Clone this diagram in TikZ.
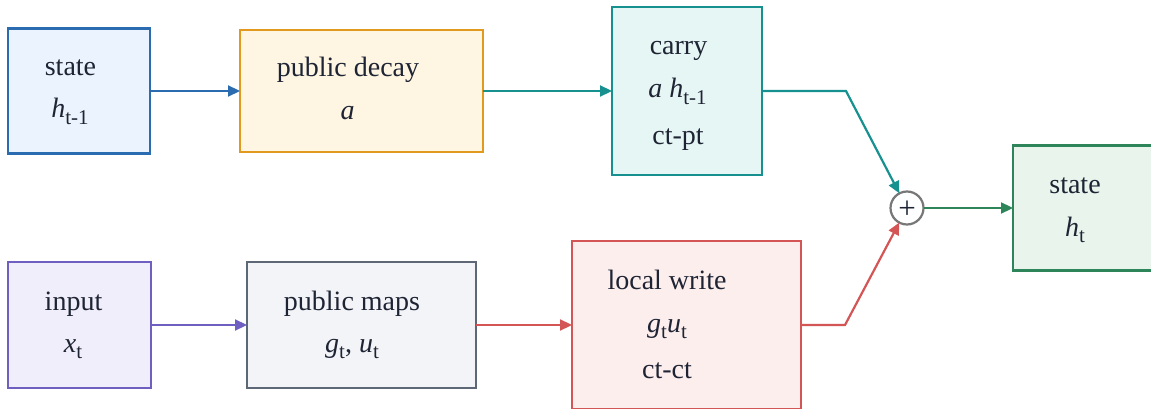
\documentclass[tikz,border=0pt]{standalone}
\usepackage{fontspec}
\setmainfont{Liberation Serif}
\usetikzlibrary{arrows.meta}
\definecolor{txtc}{HTML}{1E2434}
\definecolor{blueB}{HTML}{2B6CB0}
\definecolor{blueF}{HTML}{EBF3FE}
\definecolor{orangeB}{HTML}{E29A1E}
\definecolor{orangeF}{HTML}{FEF5E3}
\definecolor{tealB}{HTML}{17918F}
\definecolor{tealF}{HTML}{E6F6F5}
\definecolor{greenB}{HTML}{2F855A}
\definecolor{greenF}{HTML}{E9F5EC}
\definecolor{purpleB}{HTML}{6E5FC0}
\definecolor{purpleF}{HTML}{F0EEFA}
\definecolor{grayB}{HTML}{5D6776}
\definecolor{grayF}{HTML}{F3F4F7}
\definecolor{redB}{HTML}{D35555}
\definecolor{redF}{HTML}{FDEEEE}
\definecolor{circB}{HTML}{777777}
\newcommand{\lowsub}[1]{\raisebox{-6.5pt}{\fontsize{21}{21}\selectfont #1}}
\begin{document}
\begin{tikzpicture}[x=1pt,y=-1pt,
  box/.style 2 args={draw=#1, fill=#2, line width=2.2pt, inner sep=0pt, outer sep=0pt},
  lbl/.style={text=txtc, anchor=base, inner sep=0pt, font=\fontsize{28}{28}\selectfont},
  conn/.style={line width=2.2pt, -{Triangle[length=12pt,width=11pt]}}]
\useasboundingbox (0,0) rectangle (1151,409);
\clip (0,0) rectangle (1151,409);
% boxes
\node[box={blueB}{blueF}, minimum width=142pt, minimum height=125pt] (b1) at (79,91) {};
\node[box={orangeB}{orangeF}, minimum width=243pt, minimum height=122pt] (b2) at (361.5,91) {};
\node[box={tealB}{tealF}, minimum width=150pt, minimum height=168pt] (b3) at (687,91) {};
\node[box={greenB}{greenF}, minimum width=142pt, minimum height=125pt] (b4) at (1084,208) {};
\node[box={purpleB}{purpleF}, minimum width=143pt, minimum height=126pt] (b5) at (79.5,325) {};
\node[box={grayB}{grayF}, minimum width=229pt, minimum height=126pt] (b6) at (361.5,325) {};
\node[box={redB}{redF}, minimum width=229pt, minimum height=168pt] (b7) at (686.5,325) {};
\node[draw=circB, fill=white, line width=2.2pt, circle, minimum size=33pt, inner sep=0pt, outer sep=0pt] (plus) at (907,208) {};
\node[text=txtc, font=\fontsize{31}{31}\selectfont, inner sep=0pt] (plussign) at (907,210) {+};
% labels
\node[lbl] (t1a) at (70.5,76) {state};
\node[lbl] (t1b) at (70,118) {\textit{h}\lowsub{t-1}};
\node[lbl] (t2a) at (348,77) {public decay};
\node[lbl] (t2b) at (347.5,120) {\textit{a}};
\node[lbl] (t3a) at (678.5,55) {carry};
\node[lbl] (t3b) at (677.5,98) {\textit{a h}\lowsub{t-1}};
\node[lbl] (t3c) at (678,145) {ct-pt};
\node[lbl] (t4a) at (1075,193) {state};
\node[lbl] (t4b) at (1075,236) {\textit{h}\lowsub{t}};
\node[lbl] (t5a) at (73.5,310) {input};
\node[lbl] (t5b) at (73,352) {\textit{x}\lowsub{t}};
\node[lbl] (t6a) at (352,310) {public maps};
\node[lbl] (t6b) at (352,352) {\textit{g}\lowsub{t}, \textit{u}\lowsub{t}};
\node[lbl] (t7a) at (667,289) {local write};
\node[lbl] (t7b) at (667,332) {\textit{g}\lowsub{t}\textit{u}\lowsub{t}};
\node[lbl] (t7c) at (667,378) {ct-ct};
% connectors
\draw[conn, blueB] (b1) -- (b2);
\draw[conn, tealB] (b2) -- (b3);
\draw[conn, tealB] (b3.east) -- ++(84,0) coordinate (k1) -- (plus);
\draw[conn, purpleB] (b5) -- (b6);
\draw[conn, redB] (b6) -- (b7);
\draw[conn, redB] (b7.east) -- ++(44,0) coordinate (k2) -- (plus);
\draw[conn, greenB] (plus) -- (b4);
\end{tikzpicture}
\end{document}
